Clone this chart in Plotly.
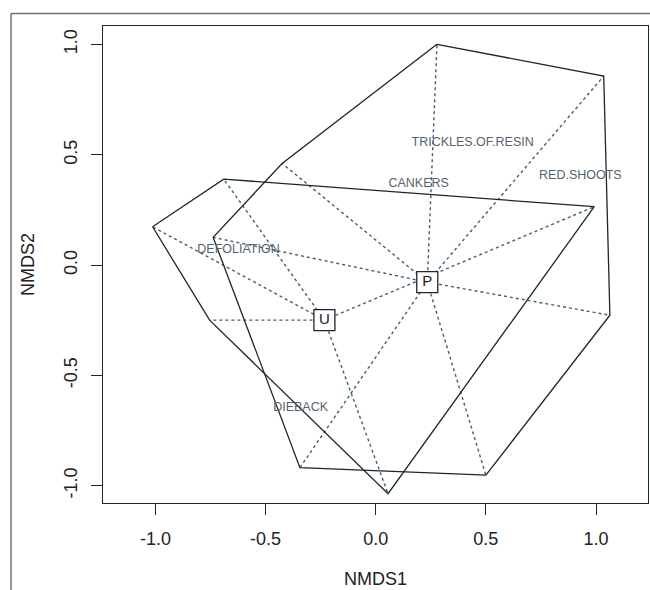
import plotly.graph_objects as go

# Group P sample scores (hull vertices, in hull order)
p_x = [0.278, 1.035, 1.063, 0.500, -0.344, -0.738, -0.425]
p_y = [1.001, 0.857, -0.227, -0.952, -0.918, 0.126, 0.461]
# Group U sample scores (hull vertices, in hull order)
u_x = [-1.013, -0.690, 0.992, 0.056, -0.754]
u_y = [0.174, 0.390, 0.265, -1.036, -0.249]

# Group centres (spider centres)
centre_labels = ["P", "U"]
centre_x = [0.234, -0.233]
centre_y = [-0.077, -0.249]

# Variable labels
var_labels = ["TRICKLES.OF.RESIN", "RED.SHOOTS", "CANKERS", "DEFOLIATION", "DIEBACK"]
var_x = [0.440, 0.929, 0.195, -0.623, -0.341]
var_y = [0.555, 0.405, 0.370, 0.071, -0.647]

tick_vals = [-1.0, -0.5, 0.0, 0.5, 1.0]
tick_text = ["-1.0", "-0.5", "0.0", "0.5", "1.0"]

FONT = "Liberation Sans, Arial, Helvetica, sans-serif"
SPIDER_COL = "#3f6074"
HULL_COL = "#1c262c"

fig = go.Figure()

groups = [(p_x, p_y, centre_x[0], centre_y[0]), (u_x, u_y, centre_x[1], centre_y[1])]

# spiders
for gx, gy, cx, cy in groups:
    sx, sy = [], []
    for x, y in zip(gx, gy):
        sx += [cx, x, None]
        sy += [cy, y, None]
    fig.add_trace(go.Scatter(x=sx, y=sy, mode="lines",
                             line=dict(color=SPIDER_COL, width=1.4, dash="dot"),
                             hoverinfo="skip", showlegend=False))

# hulls
for gx, gy, cx, cy in groups:
    fig.add_trace(go.Scatter(x=gx + [gx[0]], y=gy + [gy[0]], mode="lines",
                             line=dict(color=HULL_COL, width=1.3),
                             hoverinfo="skip", showlegend=False))

# variable labels
fig.add_trace(go.Scatter(x=var_x, y=var_y, mode="text", text=var_labels,
                         textposition="middle center",
                         textfont=dict(family=FONT, size=12.5, color="#54646f"),
                         hoverinfo="skip", showlegend=False))

# centre labels in boxes
fig.add_trace(go.Scatter(x=centre_x, y=centre_y, mode="markers+text",
                         text=centre_labels, textposition="middle center",
                         marker=dict(symbol="square", size=21, color="white",
                                     line=dict(color=HULL_COL, width=1.3)),
                         textfont=dict(family=FONT, size=15, color="#1a1a1a"),
                         hoverinfo="skip", showlegend=False))

axis_common = dict(
    showgrid=False, zeroline=False, automargin=False,
    showline=True, mirror=True, linecolor=HULL_COL, linewidth=1.3,
    ticks="outside", ticklen=11, tickwidth=1.3, tickcolor=HULL_COL,
    tickvals=tick_vals, ticktext=tick_text,
    tickfont=dict(family=FONT, size=18, color="#222222"),
)

fig.update_layout(
    width=650, height=590,
    margin=dict(l=103, r=2, t=26, b=87),
    paper_bgcolor="white", plot_bgcolor="white",
    xaxis=dict(range=[-1.238, 1.236], ticklabelstandoff=8, **axis_common),
    yaxis=dict(range=[-1.078, 1.084], tickangle=-90, ticklabelstandoff=7,
               title=dict(text="NMDS2", font=dict(family=FONT, size=18, color="#222222"), standoff=21),
               **axis_common),
    annotations=[
        dict(text="NMDS1", xref="paper", yref="paper", x=0.5, y=-0.160,
             xanchor="center", yanchor="middle", showarrow=False,
             font=dict(family=FONT, size=18, color="#222222")),
    ],
    shapes=[
        dict(type="line", xref="paper", yref="paper", x0=-0.1688, x1=1.01, y0=1.0262, y1=1.0262,
             line=dict(color="#707070", width=1.5)),
        dict(type="line", xref="paper", yref="paper", x0=-0.1688, x1=-0.1688, y0=1.0262, y1=-0.2,
             line=dict(color="#707070", width=1.5)),
    ],
)

fig.write_html("out.html", config={"displayModeBar": False},
               post_script="document.body.style.margin='0';")
